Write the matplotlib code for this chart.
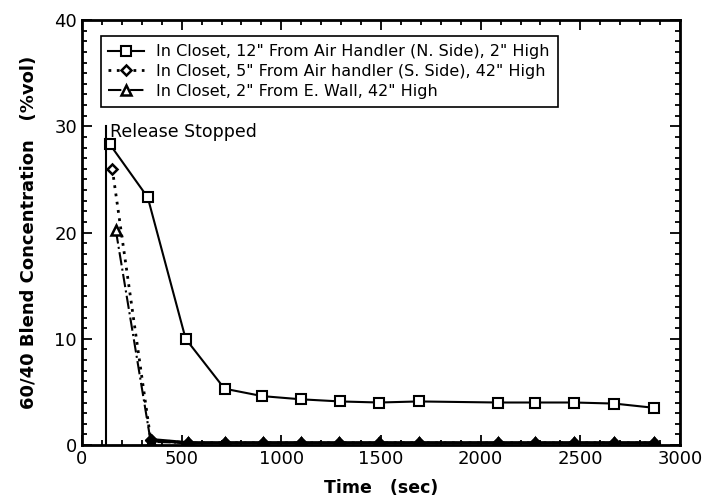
import matplotlib
matplotlib.use("Agg")
import matplotlib.pyplot as plt
from matplotlib.ticker import MultipleLocator

# Data
sq_x = [140, 330, 520, 715, 905, 1100, 1295, 1490, 1690, 2085, 2275, 2470, 2670, 2870]
sq_y = [28.3, 23.3, 10.0, 5.3, 4.6, 4.3, 4.1, 4.0, 4.1, 4.0, 4.0, 4.0, 3.9, 3.5]

dm_x = [152, 345, 530, 720, 910, 1100, 1290, 1490, 1690, 2085, 2275, 2470, 2670, 2870]
dm_y = [26.0, 0.5, 0.2, 0.2, 0.2, 0.2, 0.2, 0.2, 0.2, 0.2, 0.2, 0.2, 0.2, 0.2]

tr_x = [170, 345, 530, 720, 910, 1100, 1290, 1490, 1690, 2085, 2275, 2470, 2670, 2870]
tr_y = [20.2, 0.3, 0.2, 0.2, 0.2, 0.2, 0.2, 0.2, 0.2, 0.2, 0.2, 0.2, 0.2, 0.2]

labels = ['In Closet, 12" From Air Handler (N. Side), 2" High',
          'In Closet, 5" From Air handler (S. Side), 42" High',
          'In Closet, 2" From E. Wall, 42" High']

release_x = 122
release_top = 30
release_text = "Release Stopped"

plt.rcParams['font.family'] = ['DejaVu Sans']

fig = plt.figure(figsize=(7.06, 5.03), dpi=100)
ax = fig.add_axes([0.1161, 0.1153, 0.8471, 0.8449])

ax.plot(sq_x, sq_y, color='black', lw=1.5, ls='-', marker='s', ms=7,
        mfc='white', mec='black', mew=1.5, label=labels[0])
ax.plot(dm_x, dm_y, color='black', lw=2.0, ls=(0, (1, 2)), marker='D', ms=5.5,
        mfc='white', mec='black', mew=1.8, label=labels[1])
ax.plot(tr_x, tr_y, color='black', lw=1.5, ls='-.', marker='^', ms=7,
        mfc='white', mec='black', mew=1.8, label=labels[2])
# near-zero points appear as solid blobs in the reference
ax.plot(dm_x[1:], dm_y[1:], color='black', lw=2.5, ls='-', marker='D', ms=6,
        mfc='black', mec='black')
ax.plot(tr_x[1:], tr_y[1:], color='black', lw=0, ls='none', marker='^', ms=8,
        mfc='black', mec='black')

ax.plot([release_x, release_x], [0, release_top], color='black', lw=1.5)
ax.text(release_x + 18, 29.0, release_text, fontsize=12.5, va='baseline', ha='left')

ax.set_xlim(0, 3000)
ax.set_ylim(0, 40)
ax.xaxis.set_major_locator(MultipleLocator(500))
ax.xaxis.set_minor_locator(MultipleLocator(100))
ax.yaxis.set_major_locator(MultipleLocator(10))
ax.yaxis.set_minor_locator(MultipleLocator(1))
ax.tick_params(which='both', direction='in', top=True, right=True, width=1.3)
ax.tick_params(which='major', length=7, labelsize=13)
ax.tick_params(which='minor', length=3.5)
for s in ax.spines.values():
    s.set_linewidth(2)

ax.set_xlabel('Time   (sec)', fontsize=12.5, fontweight='bold', labelpad=8)
ax.set_ylabel('60/40 Blend Concentration   (%vol)', fontsize=13, fontweight='bold', labelpad=12)

leg = ax.legend(loc='upper left', bbox_to_anchor=(0.031, 0.962), borderaxespad=0,
                fancybox=False, edgecolor='black', fontsize=11.5, handlelength=2.2,
                labelspacing=0.3, framealpha=1, borderpad=0.5)
leg.get_frame().set_linewidth(1.2)

fig.savefig('out.png', dpi=100)
